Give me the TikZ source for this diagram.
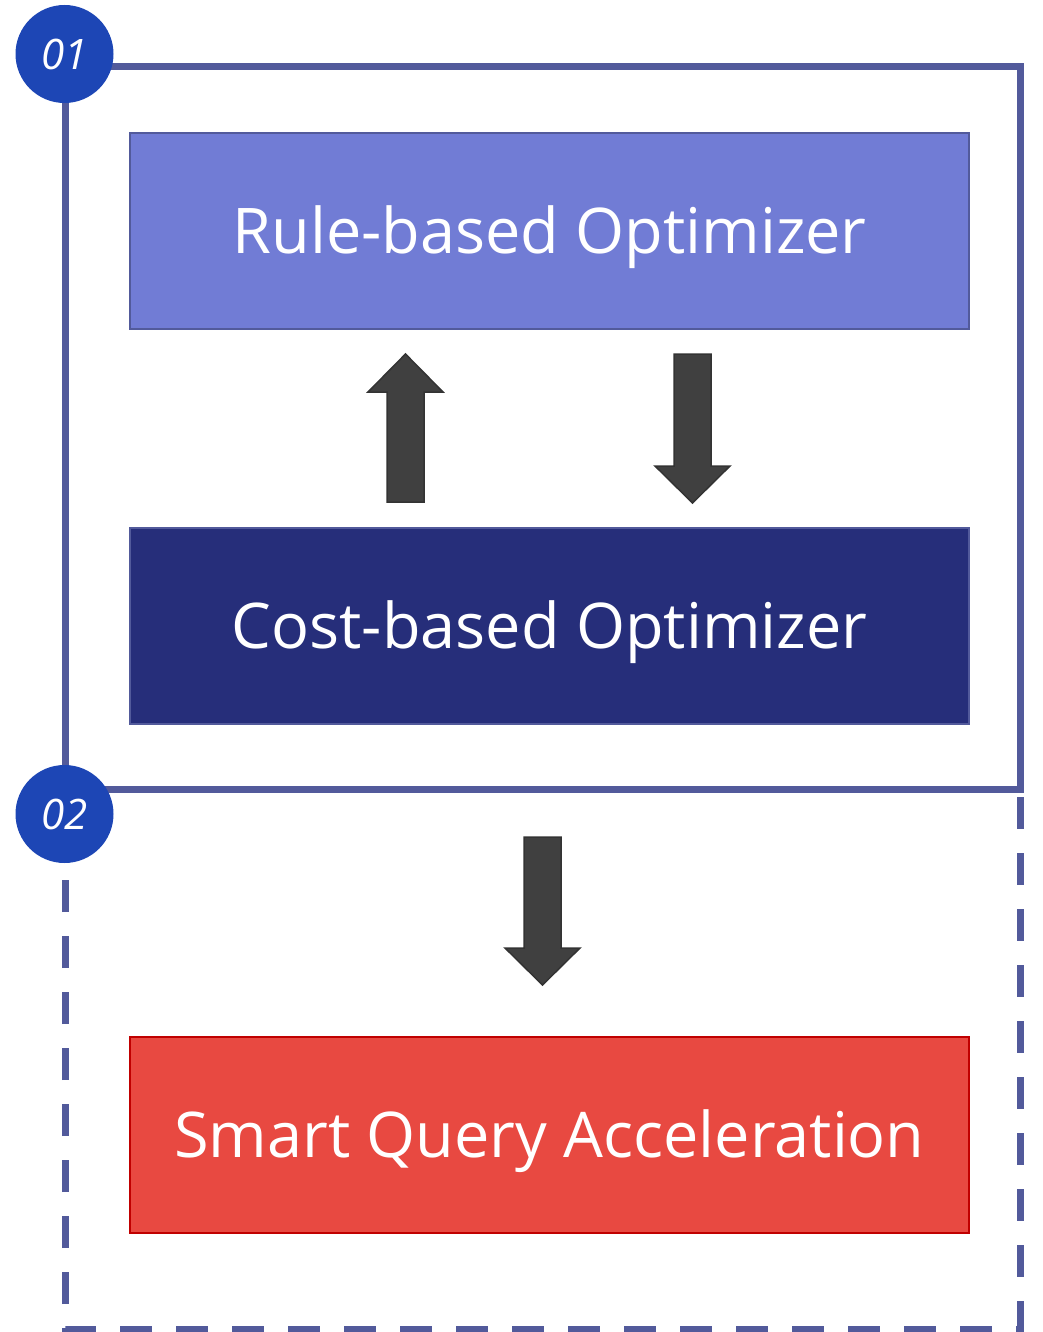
\documentclass[tikz,border=0pt]{standalone}
\usepackage{fontspec}
\setmainfont{Open Sans}
\definecolor{frame}{HTML}{525A9B}
\definecolor{badge}{HTML}{1D46B5}
\definecolor{rulefill}{HTML}{717CD5}
\definecolor{costfill}{HTML}{262E7A}
\definecolor{smartfill}{HTML}{E84941}
\definecolor{smartline}{HTML}{C00000}
\definecolor{arrowfill}{HTML}{404040}
\definecolor{arrowline}{HTML}{333333}
\begin{document}
\begin{tikzpicture}[x=1pt,y=-1pt,
  box/.style={rectangle, minimum width=839pt, minimum height=196pt, inner sep=0pt,
    line width=2.5pt, text=white, font=\fontsize{63}{75}\selectfont,
    text height=45pt, text depth=0pt},
  badgenode/.style={circle, fill=badge, minimum size=98pt, inner sep=0pt,
    text=white, font=\fontsize{42}{50}\selectfont\itshape},
  framesolid/.style={draw=frame, line width=7pt},
  framedash/.style={draw=frame, line width=7pt, dash pattern=on 32pt off 24pt},
  blockarrow/.style={fill=arrowfill, draw=arrowline, line width=1.5pt, line join=miter}]
\useasboundingbox (0,0) rectangle (1042,1332);
% dashed frame (part 02)
\draw[framedash] (1020,797) -- (1020,1329) -- (65,1329) -- (65,877);
% solid frame (part 01)
\draw[framesolid] (65,67) rectangle (1020,789);
% boxes
\node[box, fill=rulefill, draw=frame] (rule) at (549.5,231) {Rule-based Optimizer};
\node[box, fill=costfill, draw=frame] (cost) at (549.5,626) {Cost-based Optimizer};
\node[box, fill=smartfill, draw=smartline] (smart) at (549.5,1135) {Smart Query Acceleration};
% badges
\node[badgenode] (b1) at (64.5,54) {01};
\node[badgenode] (b2) at (64.5,814) {02};
% block arrows
\draw[blockarrow] (387,502) -- (387,392) -- (368,392) -- (405.5,354) -- (443,392) -- (424,392) -- (424,502) -- cycle;
\draw[blockarrow] (674,354) -- (711,354) -- (711,466) -- (730,466) -- (692.5,503) -- (655,466) -- (674,466) -- cycle;
\draw[blockarrow] (524,837) -- (561,837) -- (561,948) -- (580,948) -- (542.5,985) -- (505,948) -- (524,948) -- cycle;
\end{tikzpicture}
\end{document}
